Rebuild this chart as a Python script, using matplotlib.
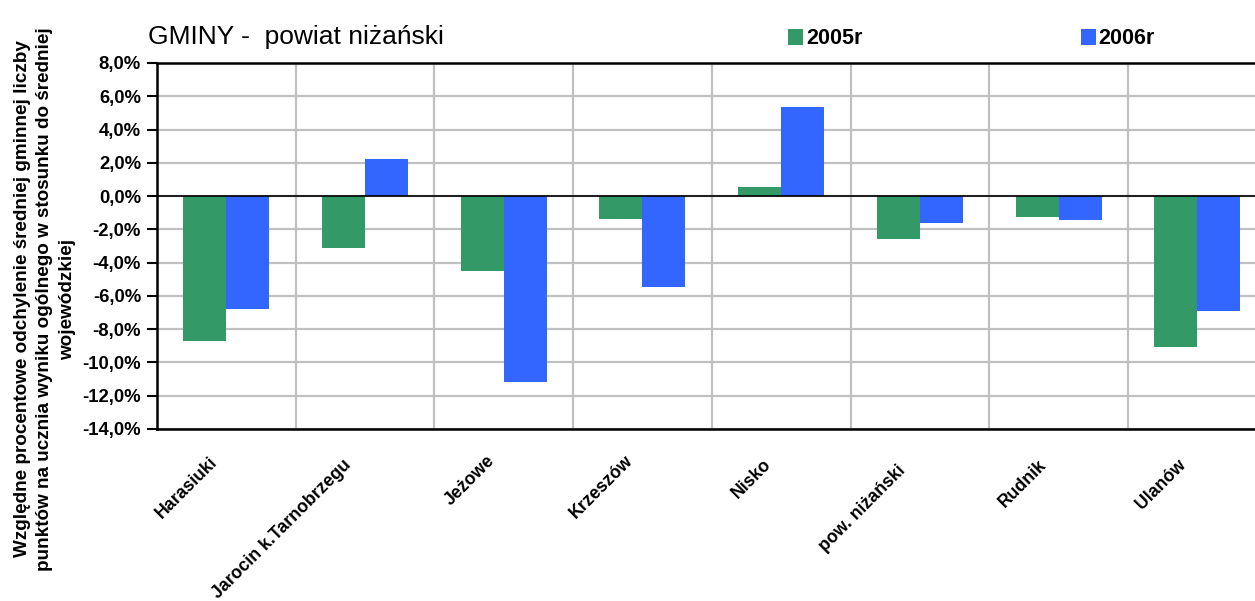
import numpy as np
import matplotlib.pyplot as plt
import matplotlib.transforms as mtransforms
from matplotlib.ticker import FuncFormatter, MultipleLocator

# data (percent)
gminy = ["Harasiuki", "Jarocin k.Tarnobrzegu", "Jeżowe", "Krzeszów",
         "Nisko", "pow. niżański", "Rudnik", "Ulanów"]
wynik_2005 = [-8.7, -3.1, -4.5, -1.4, 0.55, -2.6, -1.25, -9.1]
wynik_2006 = [-6.8, 2.2, -11.2, -5.45, 5.35, -1.6, -1.45, -6.9]

plt.rcParams['font.family'] = ['Liberation Sans', 'DejaVu Sans']

fig = plt.figure(figsize=(12.55, 6.01), dpi=100)
ax = fig.add_axes([157/1255, 1 - 429/601, 8*138.7/1255, (429 - 63)/601])

x = np.arange(len(gminy))
w = 0.31
b1 = ax.bar(x - w/2, wynik_2005, w, color='#339966', label='2005r', zorder=3)
b2 = ax.bar(x + w/2, wynik_2006, w, color='#3366FF', label='2006r', zorder=3)

ax.set_xlim(-0.5, len(gminy) - 0.5)
ax.set_ylim(-14, 8)
ax.yaxis.set_major_locator(MultipleLocator(2))
ax.yaxis.set_major_formatter(FuncFormatter(lambda v, p: ("%.1f%%" % v).replace('.', ',')))

# grid: horizontal every 2%, vertical between categories
ax.grid(axis='y', color='#c0c0c0', lw=1.6, zorder=0)
for b in np.arange(0.5, len(gminy) - 0.5, 1):
    ax.axvline(b, color='#c0c0c0', lw=1.6, zorder=0)
ax.axhline(0, color='black', lw=1.2, zorder=4)

for s in ['left', 'bottom', 'top']:
    ax.spines[s].set_linewidth(1.8)
    ax.spines[s].set_color('black')
ax.spines['right'].set_visible(False)

ax.tick_params(axis='y', length=7, width=1.5, labelsize=13.3, pad=4.5)
for t in ax.get_yticklabels():
    t.set_fontweight('bold')

ax.set_xticks(x)
ax.set_xticklabels(gminy, rotation=45, ha='right', va='center',
                   rotation_mode='anchor', fontsize=12.7, fontweight='bold')
ax.tick_params(axis='x', length=0, pad=22)
# labels sit a little left of the category centre (pixels)
shift_px = [-11, -17, -12, -12, -12, -17, -15, -14]
drop_px = [0, -3, 1, 1, -2, -8, -3, -3]
for t, dx, dy in zip(ax.get_xticklabels(), shift_px, drop_px):
    off = mtransforms.ScaledTranslation(dx/100, dy/100, fig.dpi_scale_trans)
    t.set_transform(t.get_transform() + off)

fig.text(148/1255, 1 - 37/601, "GMINY -  powiat niżański", fontsize=19,
         ha='left', va='center')

fig.text(45/1255, 1 - 299/601,
         "Względne procentowe odchylenie średniej gminnej liczby\n"
         "punktów na ucznia wyniku ogólnego w stosunku do średniej\n"
         "wojewódzkiej",
         rotation=90, ha='center', va='center', fontsize=13.6,
         fontweight='bold', linespacing=1.4, multialignment='center')

leg = fig.legend(handles=[b1, b2], ncol=2, loc='center left',
                 bbox_to_anchor=(788/1255, 1 - 39/601), frameon=False,
                 prop={'weight': 'bold', 'size': 15.5},
                 handlelength=0.72, handleheight=0.72, handletextpad=0.12,
                 columnspacing=10.13, borderaxespad=0, borderpad=0)

fig.savefig('out.png', dpi=100)
